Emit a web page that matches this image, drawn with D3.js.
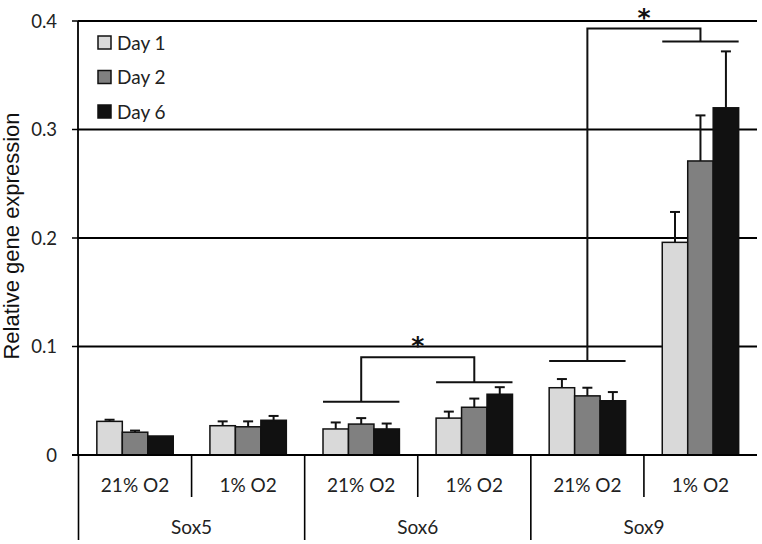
<!DOCTYPE html>
<html>
<head>
<meta charset="utf-8">
<script src="https://cdn.jsdelivr.net/npm/d3@7"></script>
<style>
  body { margin: 0; background: #fff; }
  svg { display: block; }
</style>
</head>
<body>
<div class="chart"></div>
<script>
// values
var genes = ["Sox5", "Sox6", "Sox9"],
    conditions = ["21% O2", "1% O2"],
    days = ["Day 1", "Day 2", "Day 6"];

// one entry per gene/condition pair, in order Sox5 21%, Sox5 1%, Sox6 21%, ...
var day1 = [0.031, 0.027, 0.024, 0.034, 0.062, 0.196],
    day2 = [0.021, 0.026, 0.0285, 0.044, 0.0545, 0.271],
    day6 = [0.0175, 0.032, 0.024, 0.056, 0.050, 0.320];

var day1Err = [0.0015, 0.004, 0.006, 0.006, 0.008, 0.028],
    day2Err = [0.0015, 0.005, 0.0055, 0.008, 0.0075, 0.042],
    day6Err = [0, 0.004, 0.005, 0.0065, 0.008, 0.052];

var yTicks = [0, 0.1, 0.2, 0.3, 0.4];

// significance brackets: left group, right group, heights of the two feet and the top
var brackets = [
  {left: 2, right: 3, leftY: 0.049, rightY: 0.067, top: 0.090},
  {left: 4, right: 5, leftY: 0.0866, rightY: 0.381, top: 0.393}
];

var width = 762, height = 544;
var colors = {"Day 1": "#d9d9d9", "Day 2": "#808080", "Day 6": "#111111"};
var means = {"Day 1": day1, "Day 2": day2, "Day 6": day6},
    errs = {"Day 1": day1Err, "Day 2": day2Err, "Day 6": day6Err};

var cats = [];
genes.forEach(function(g) {
  conditions.forEach(function(c) { cats.push(g + "|" + c); });
});

var svg = d3.select(".chart").append("svg")
  .attr("width", width)
  .attr("height", height);

var x0 = d3.scaleBand().domain(cats).range([78.5, 757]).paddingInner(0).paddingOuter(0);
var x1 = d3.scaleBand().domain(days).range([0, x0.bandwidth()]).paddingInner(0).paddingOuter(0.72);
var y = d3.scaleLinear().domain([0, 0.4]).range([455, 21]);

var font = "Lato, 'Open Sans', sans-serif";

// gridlines + ticks
svg.append("g").selectAll("line")
  .data(yTicks.slice(1))
  .enter().append("line")
  .attr("x1", 78).attr("x2", 757)
  .attr("y1", d => y(d)).attr("y2", d => y(d))
  .attr("stroke", "#000").attr("stroke-width", 1.8);

svg.append("g").selectAll("line")
  .data(yTicks)
  .enter().append("line")
  .attr("x1", 72).attr("x2", 78)
  .attr("y1", d => y(d)).attr("y2", d => y(d))
  .attr("stroke", "#000").attr("stroke-width", 1.5);

svg.append("g").selectAll("text")
  .data(yTicks)
  .enter().append("text")
  .attr("x", 57)
  .attr("y", d => y(d))
  .attr("dy", "0.36em")
  .attr("text-anchor", "end")
  .style("font-family", font)
  .style("font-size", "18.5px")
  .attr("fill", "#222")
  .text(d => d === 0 ? "0" : d3.format(".1f")(d));

// axis title
svg.append("text")
  .attr("transform", "translate(19,236) rotate(-90)")
  .attr("text-anchor", "middle")
  .style("font-family", "'Liberation Sans', Arial, sans-serif")
  .style("font-size", "22px")
  .attr("fill", "#111")
  .text("Relative gene expression");

// bars
var rows = [];
cats.forEach(function(c, i) {
  days.forEach(function(d) {
    rows.push({cat: c, day: d, value: means[d][i], err: errs[d][i]});
  });
});

var bars = svg.append("g").selectAll("g")
  .data(rows)
  .enter().append("g");

bars.filter(d => d.err > 0).append("line")
  .attr("x1", d => x0(d.cat) + x1(d.day) + x1.bandwidth() / 2)
  .attr("x2", d => x0(d.cat) + x1(d.day) + x1.bandwidth() / 2)
  .attr("y1", d => y(d.value))
  .attr("y2", d => y(d.value + d.err))
  .attr("stroke", "#111").attr("stroke-width", 2);

bars.filter(d => d.err > 0).append("line")
  .attr("x1", d => x0(d.cat) + x1(d.day) + x1.bandwidth() / 2 - 5)
  .attr("x2", d => x0(d.cat) + x1(d.day) + x1.bandwidth() / 2 + 5)
  .attr("y1", d => y(d.value + d.err))
  .attr("y2", d => y(d.value + d.err))
  .attr("stroke", "#111").attr("stroke-width", 2);

bars.append("rect")
  .attr("x", d => x0(d.cat) + x1(d.day))
  .attr("width", x1.bandwidth())
  .attr("y", d => y(d.value))
  .attr("height", d => y(0) - y(d.value))
  .attr("fill", d => colors[d.day])
  .attr("stroke", "#111")
  .attr("stroke-width", 1.5);

// category axis
svg.append("line")
  .attr("x1", 72).attr("x2", 757)
  .attr("y1", y(0)).attr("y2", y(0))
  .attr("stroke", "#000").attr("stroke-width", 1.8);

svg.append("line")
  .attr("x1", 78).attr("x2", 78)
  .attr("y1", y(0.4)).attr("y2", y(0))
  .attr("stroke", "#000").attr("stroke-width", 1.8);

var cg = svg.append("g");
cats.forEach(function(c, i) {
  var left = x0(c);
  cg.append("line")
    .attr("x1", left).attr("x2", left)
    .attr("y1", y(0)).attr("y2", i % 2 === 0 ? 540 : 497)
    .attr("stroke", "#000").attr("stroke-width", 1.6);
  cg.append("text")
    .attr("x", left + x0.bandwidth() / 2)
    .attr("y", 485)
    .attr("dy", "0.36em")
    .attr("text-anchor", "middle")
    .style("font-family", font)
    .style("font-size", "19px")
    .attr("fill", "#222")
    .text(c.split("|")[1]);
});

genes.forEach(function(g) {
  cg.append("text")
    .attr("x", x0(g + "|" + conditions[0]) + x0.bandwidth())
    .attr("y", 527)
    .attr("dy", "0.36em")
    .attr("text-anchor", "middle")
    .style("font-family", font)
    .style("font-size", "19px")
    .attr("fill", "#222")
    .text(g);
});

// significance brackets
var bg = svg.append("g").attr("fill", "none").attr("stroke", "#111").attr("stroke-width", 2);
brackets.forEach(function(b) {
  var lc = cats[b.left], rc = cats[b.right];
  var lx0 = x0(lc) + x1(days[0]), lx1 = x0(lc) + x1(days[2]) + x1.bandwidth();
  var rx0 = x0(rc) + x1(days[0]), rx1 = x0(rc) + x1(days[2]) + x1.bandwidth();
  var lm = x0(lc) + x0.bandwidth() / 2, rm = x0(rc) + x0.bandwidth() / 2;
  bg.append("line").attr("x1", lx0).attr("x2", lx1).attr("y1", y(b.leftY)).attr("y2", y(b.leftY));
  bg.append("line").attr("x1", rx0).attr("x2", rx1).attr("y1", y(b.rightY)).attr("y2", y(b.rightY));
  bg.append("path")
    .attr("d", "M" + lm + "," + y(b.leftY) + "V" + y(b.top) + "H" + rm + "V" + y(b.rightY));
  svg.append("text")
    .attr("x", (lm + rm) / 2)
    .attr("y", y(b.top) - 3)
    .attr("text-anchor", "middle")
    .style("font-family", "'DejaVu Sans', sans-serif")
    .style("font-size", "25px")
    .style("font-weight", "bold")
    .attr("fill", "#111")
    .text("*");
});

// legend
var lg = svg.append("g").selectAll("g")
  .data(days)
  .enter().append("g")
  .attr("transform", (d, i) => "translate(98," + (43 + i * 34.5) + ")");

lg.append("rect")
  .attr("x", 0).attr("y", -7)
  .attr("width", 13).attr("height", 13)
  .attr("fill", d => colors[d])
  .attr("stroke", "#111").attr("stroke-width", 1.5);

lg.append("text")
  .attr("x", 19)
  .attr("y", 0)
  .attr("dy", "0.36em")
  .style("font-family", font)
  .style("font-size", "19px")
  .attr("fill", "#222")
  .text(d => d);
</script>
</body>
</html>
